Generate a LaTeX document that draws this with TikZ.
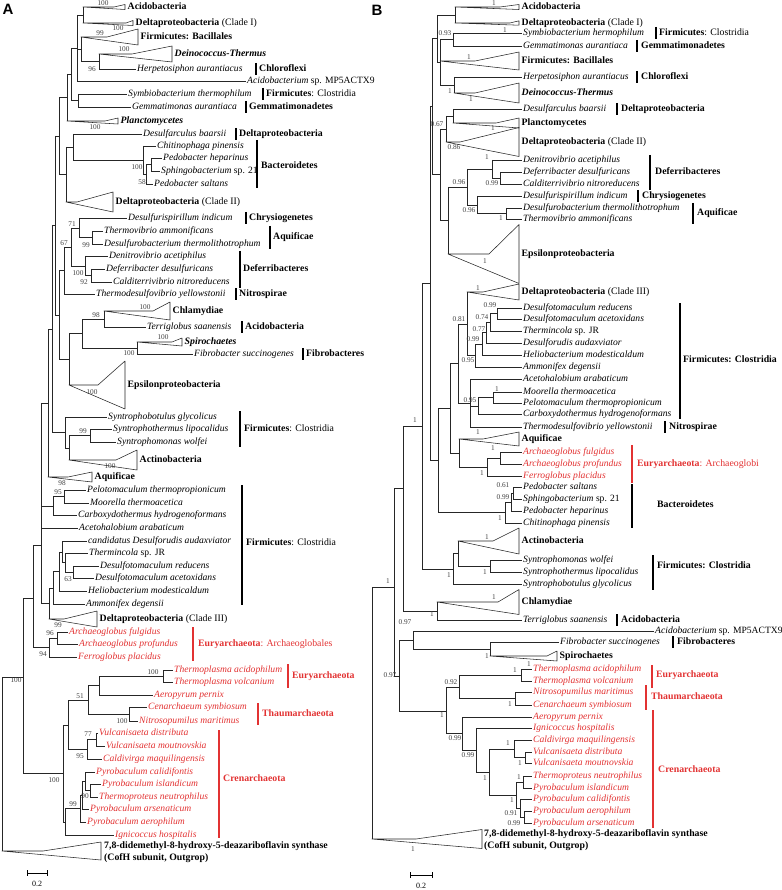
\documentclass[tikz,border=0pt]{standalone}
\usepackage{fontspec}
\setmainfont{Liberation Serif}
\newfontfamily\panelfont{Liberation Sans}
\definecolor{arch}{RGB}{226,50,50}
\newcommand\lff{\fontsize{9.6}{11}\selectfont\itshape}
\newcommand\grpf{\fontsize{9.8}{11}\selectfont}
\newcommand\svf{\fontsize{7.3}{8}\selectfont}
\newcounter{svc}
\tikzset{
 br/.style={line width=0.55pt, draw=black!85, line join=round},
 lf/.style={font=\lff, inner xsep=1.5pt, inner ysep=0pt, text height=6.4pt, text depth=2pt},
 grp/.style={font=\grpf, inner xsep=0pt, inner ysep=0pt, text height=6.4pt, text depth=2pt},
 sv/.style={font=\svf, inner sep=0pt, text=black!75},
 gbar/.style={line width=1.6pt, draw=black},
 abar/.style={line width=1.3pt, draw=arch},
 arc/.style={text=arch},
 panel/.style={font=\panelfont\bfseries\fontsize{15}{15}\selectfont, inner sep=0pt},
 sbar/.style={line width=0.6pt, draw=black}
}
\newcommand\Lf[6][]{\node[lf,anchor=west,#1] (#2) at ({#5-1.5},#4) {#6};\draw[br] (#3,#4) -- (#2.west);}
\newcommand\Tri[8][]{\draw[br] (#3,#4) -- (#5,#4) -- (#6,{#4-#7}) -- (#6,{#4+#7}) -- cycle;\node[grp,anchor=west,#1] (#2) at ({#6+2.5},#4) {#8};}
\newcommand\In[5]{\draw[br] (#1,#2) -- (#1,#3) (#4,#5) -- (#1,#5);}
\newcommand\Gb[4][gbar]{\draw[#1] (#2,#3) -- (#2,#4);}
\newcommand\Gl[5][]{\node[grp,anchor=west,#1] (#2) at (#3,#4) {#5};}
\newcommand\Sv[3]{\stepcounter{svc}\node[sv] (sv\arabic{svc}) at (#1,#2) {#3};}
\begin{document}
\begin{tikzpicture}[x=1pt,y=-1pt]
\useasboundingbox (0,0) rectangle (781,890);
\node[panel] (pA) at (8,9) {A};
\node[panel] (pB) at (377,10) {B};
% ================= LEFT TREE =================
\In{83}{7}{23}{77}{15}
\In{99}{54}{69}{81}{61.5}
\In{81}{37}{61.5}{77}{49}
\In{77}{15}{81}{71}{48}
\In{78}{94}{107}{71}{100.5}
\In{71}{48}{100.5}{67}{74}
\In{67}{74}{121}{59}{97}
\In{143}{146}{174}{73}{160}
\In{146}{164.5}{184}{143}{174}
\In{151}{158}{171}{146}{164.5}
\In{73}{134}{160}{66}{147}
\In{66}{147}{202}{59}{174.5}
\In{59}{97}{174.5}{55}{136}
\In{92}{231}{244}{79}{237.5}
\In{79}{218}{237.5}{71}{228}
\In{91}{269}{282}{85}{275.5}
\In{85}{256}{275.5}{71}{266}
\In{71}{228}{266}{64}{247}
\In{64}{247}{294}{59}{270.5}
\In{104}{311}{327}{82}{319}
\In{137}{342}{354}{82}{348}
\In{82}{319}{348}{69}{333.5}
\In{69}{333.5}{385}{59}{359}
\In{59}{270.5}{359}{55}{315}
\In{55}{136}{315}{52}{225}
\In{90}{429}{442}{69}{435.5}
\In{69}{435.5}{460}{65}{448}
\In{65}{417}{448}{52}{432.5}
\In{52}{225}{432.5}{48}{329}
\In{48}{329}{477}{41}{403}
\In{64}{490}{503}{53}{496.5}
\In{53}{496.5}{515}{41}{506}
\In{73}{566}{578}{65}{572}
\In{65}{553}{572}{62}{562.5}
\In{62}{541}{562.5}{59}{552}
\In{59}{552}{591}{53}{571.5}
\In{53}{571.5}{604}{49}{588}
\In{49}{588}{619}{41}{603.5}
\In{41}{403}{603.5}{33}{545}
\In{57}{632}{644}{49}{638}
\In{49}{638}{657}{33}{647.5}
\In{33}{545}{647.5}{23}{598}
\In{163}{670}{682}{99}{676}
\In{99}{676}{695}{88}{685.5}
\In{129}{707}{721}{88}{714}
\In{88}{685.5}{714}{68}{700}
\In{96}{733}{746}{87}{739.5}
\In{87}{739.5}{759}{68}{749}
\In{68}{700}{749}{63}{725}
\In{90}{784}{797}{85}{790.5}
\In{85}{772}{790.5}{82}{781}
\In{82}{781}{809}{80}{795}
\In{80}{795}{822}{65}{808.5}
\In{65}{808.5}{835}{63}{822}
\In{63}{725}{822}{23}{773}
\In{23}{598}{773}{2}{677}
\draw[br] (2,677) -- (2,851);
% left leaves
\Tri{tAcL}{83}{7}{114}{125}{2.5}{\textbf{Acidobacteria}}
\Tri{tD1L}{83}{23}{126}{133}{2.5}{\textbf{Deltaproteobacteria} (Clade I)}
\Tri{tBaL}{81}{37}{107}{138}{8}{\textbf{Firmicutes: Bacillales}}
\Tri{tDTL}{99}{54}{132}{172}{8}{\textbf{\itshape Deinococcus-Thermus}}
\Lf{lHerpL}{99}{69}{137}{Herpetosiphon aurantiacus}
\Gb{256}{63}{75}\Gl{gChlL}{259}{69}{\textbf{Chloroflexi}}
\Lf{lAMPL}{77}{81}{247}{Acidobacterium {\upshape sp. MP5ACTX9}}
\Lf{lSymL}{78}{94}{128}{Symbiobacterium thermophilum}
\Gb{263}{88}{100}\Gl{gSymL}{266}{94}{\textbf{Firmicutes}: Clostridia}
\Lf{lGemL}{78}{107}{132}{Gemmatimonas aurantiaca}
\Gb{246}{101}{113}\Gl{gGemL}{249}{107}{\textbf{Gemmatimonadetes}}
\Tri{tPlL}{67}{121}{105}{118}{3}{\textbf{\itshape Planctomycetes}}
\Lf{lDbL}{73}{134}{143}{Desulfarculus baarsii}
\Gb{236}{128}{140}\Gl{gDbL}{239}{134}{\textbf{Deltaproteobacteria}}
\Lf{lChiL}{143}{146}{157}{Chitinophaga pinensis}
\Lf{lPhL}{151}{158}{163}{Pedobacter heparinus}
\Lf{lSphL}{151}{171}{161}{Sphingobacterium {\upshape sp. 21}}
\Lf{lPsL}{146}{184}{154}{Pedobacter saltans}
\Gb{257}{140}{188}\Gl{gBacL}{261}{166}{\textbf{Bacteroidetes}}
\Tri{tD2L}{66}{202}{77}{113}{10}{\textbf{Deltaproteobacteria} (Clade II)}
\Lf{lDiL}{79}{218}{128}{Desulfurispirillum indicum}
\Gb{246}{212}{224}\Gl{gCrL}{249}{218}{\textbf{Chrysiogenetes}}
\Lf{lTaL}{92}{231}{104}{Thermovibrio ammonificans}
\Lf{lDtL}{92}{244}{104}{Desulfurobacterium thermolithotrophum}
\Gb{270}{226}{249}\Gl{gAqL}{273}{237}{\textbf{Aquificae}}
\Lf{lDaL}{85}{256}{109}{Denitrovibrio acetiphilus}
\Lf{lDdL}{91}{269}{106}{Deferribacter desulfuricans}
\Lf{lCnL}{91}{282}{113}{Calditerrivibrio nitroreducens}
\Gb{240}{251}{288}\Gl{gDefL}{243}{269}{\textbf{Deferribacteres}}
\Lf{lTyL}{64}{294}{96}{Thermodesulfovibrio yellowstonii}
\Gb{236}{288}{300}\Gl{gNiL}{239}{294}{\textbf{Nitrospirae}}
\Tri{tChL}{104}{311}{153}{170}{9}{\textbf{Chlamydiae}}
\Lf{lTsL}{104}{327}{147}{Terriglobus saanensis}
\Gb{242}{321}{333}\Gl{gAcL}{245}{327}{\textbf{Acidobacteria}}
\Tri{tSpL}{137}{342}{172}{182}{4}{\textbf{\itshape Spirochaetes}}
\Lf{lFsL}{137}{354}{194}{Fibrobacter succinogenes}
\Gb{303}{348}{360}\Gl{gFiL}{306}{354}{\textbf{Fibrobacteres}}
\Tri{tEpL}{69}{385}{98}{125}{24}{\textbf{Epsilonproteobacteria}}
\Lf{lSgL}{65}{417}{108}{Syntrophobotulus glycolicus}
\Lf{lSlL}{90}{429}{113}{Syntrophothermus lipocalidus}
\Lf{lSwL}{90}{442}{117}{Syntrophomonas wolfei}
\Gb{240}{411}{447}\Gl{gCl1L}{244}{429}{\textbf{Firmicutes}: Clostridia}
\Tri{tAcnL}{69}{460}{116}{137}{10}{\textbf{Actinobacteria}}
\Tri{tAqL}{48}{477}{68}{92}{5}{\textbf{Aquificae}}
\Lf{lPtL}{64}{490}{87}{Pelotomaculum thermopropionicum}
\Lf{lMtL}{64}{503}{90}{Moorella thermoacetica}
\Lf{lCaL}{53}{515}{78}{Carboxydothermus hydrogenoformans}
\Lf{lAaL}{41}{528}{79}{Acetohalobium arabaticum}
\Lf{lCdL}{62}{541}{88}{candidatus Desulforudis audaxviator}
\Lf{lTjL}{65}{553}{89}{Thermincola {\upshape sp. JR}}
\Lf{lDrL}{73}{566}{100}{Desulfotomaculum reducens}
\Lf{lDacL}{73}{578}{95}{Desulfotomaculum acetoxidans}
\Lf{lHmL}{59}{591}{88}{Heliobacterium modesticaldum}
\Lf{lAdL}{53}{604}{86}{Ammonifex degensii}
\Gb{242}{485}{605}\Gl{gCl2L}{246}{543}{\textbf{Firmicutes}: Clostridia}
\Tri{tD3L}{49}{619}{64}{97}{8}{\textbf{Deltaproteobacteria} (Clade III)}
\Lf[arc]{lAfL}{57}{632}{69}{Archaeoglobus fulgidus}
\Lf[arc]{lApL}{57}{644}{79}{Archaeoglobus profundus}
\Lf[arc]{lFpL}{49}{657}{78}{Ferroglobus placidus}
\Gb[abar]{193}{627}{661}\Gl[arc]{gEu1L}{198}{644}{\textbf{Euryarchaeota}: Archaeoglobales}
\Lf[arc]{lTacL}{163}{670}{174}{Thermoplasma acidophilum}
\Lf[arc]{lTvL}{163}{682}{174}{Thermoplasma volcanium}
\Gb[abar]{288}{664}{688}\Gl[arc]{gEu2L}{292}{676}{\textbf{Euryarchaeota}}
\Lf[arc]{lApeL}{99}{695}{154}{Aeropyrum pernix}
\Lf[arc]{lCsL}{129}{707}{148}{Cenarchaeum symbiosum}
\Lf[arc]{lNmL}{129}{721}{139}{Nitrosopumilus maritimus}
\Gb[abar]{258}{703}{725}\Gl[arc]{gThL}{262}{714}{\textbf{Thaumarchaeota}}
\Lf[arc]{lVdL}{96}{733}{99}{Vulcanisaeta distributa}
\Lf[arc]{lVmL}{96}{746}{106}{Vulcanisaeta moutnovskia}
\Lf[arc]{lCmL}{87}{759}{103}{Caldivirga maquilingensis}
\Lf[arc]{lPcL}{85}{772}{96}{Pyrobaculum calidifontis}
\Lf[arc]{lPiL}{90}{784}{102}{Pyrobaculum islandicum}
\Lf[arc]{lTnL}{90}{797}{99}{Thermoproteus neutrophilus}
\Lf[arc]{lParL}{82}{809}{90}{Pyrobaculum arsenaticum}
\Lf[arc]{lPaeL}{80}{822}{87}{Pyrobaculum aerophilum}
\Lf[arc]{lIhL}{65}{835}{115}{Ignicoccus hospitalis}
\Gb[abar]{219}{730}{838}\Gl[arc]{gCrnL}{223}{779}{\textbf{Crenarchaeota}}
\Tri{tOgL}{2}{851}{43}{101}{9}{}
\Gl{gOg1L}{104}{846}{\textbf{7,8-didemethyl-8-hydroxy-5-deazariboflavin synthase}}
\Gl{gOg2L}{104}{858}{\textbf{(CofH subunit, Outgrop)}}
% left support values
\Sv{103}{3}{100}
\Sv{100}{33}{99}\Sv{118}{28}{100}
\Sv{124}{49}{100}
\Sv{92}{69}{96}
\Sv{95}{127}{100}
\Sv{137}{167}{100}\Sv{142}{182}{58}
\Sv{72}{224}{71}\Sv{86}{245}{99}\Sv{64}{243}{67}
\Sv{78}{273}{100}\Sv{84}{282}{92}
\Sv{145}{307}{100}\Sv{96}{315}{98}
\Sv{163}{337}{100}\Sv{129}{353}{100}
\Sv{92}{392}{100}
\Sv{83}{431}{99}
\Sv{110}{466}{100}
\Sv{62}{483}{98}\Sv{58}{492}{95}
\Sv{68}{579}{63}
\Sv{58}{625}{99}
\Sv{50}{633}{96}\Sv{43}{654}{94}
\Sv{16}{680}{100}
\Sv{153}{672}{100}
\Sv{80}{696}{51}
\Sv{122}{721}{100}
\Sv{88}{734}{77}\Sv{80}{756}{95}
\Sv{54}{780}{100}
\Sv{85}{796}{90}\Sv{73}{804}{99}
% left scale bar
\draw[sbar] (27,873) -- (47,873) (27,870) -- (27,876) (47,870) -- (47,876);
\node[sv,text=black,font=\fontsize{8}{9}\selectfont] (scL) at (37,884) {0.2};
% ================= RIGHT TREE =================
\In{455}{7}{23}{437}{15}
\In{453}{33}{46}{440}{39.5}
\In{454}{77}{93}{440}{85}
\In{440}{39.5}{85}{437}{62}
\In{437}{15}{62}{432}{38.5}
\In{453}{109}{123}{446}{116}
\In{446}{116}{142}{440}{129}
\In{500}{172}{184}{492}{178}
\In{492}{160}{178}{467}{169}
\In{506}{208}{219}{477}{213.5}
\In{477}{196}{213.5}{467}{205}
\In{467}{169}{205}{448}{187}
\In{448}{187}{254}{440}{220.5}
\In{440}{129}{220.5}{432}{174.5}
\In{432}{38.5}{174.5}{430}{106.5}
\In{497}{308}{319}{490}{313.5}
\In{490}{313.5}{331}{486}{322}
\In{486}{322}{343}{482}{332.5}
\In{482}{332.5}{355}{475}{344}
\In{475}{344}{367}{467}{355.5}
\In{467}{292}{355.5}{458}{324}
\In{493}{392}{403}{478}{397.5}
\In{478}{397.5}{414}{470}{406}
\In{470}{379}{427}{458}{403}
\In{458}{324}{403}{450}{363.5}
\In{500}{452}{464}{487}{458}
\In{487}{458}{476}{459}{467}
\In{459}{439}{467}{450}{453}
\In{450}{363.5}{453}{438}{408}
\In{513}{487}{499}{511}{493}
\In{511}{493}{511}{505}{502}
\In{505}{502}{523}{438}{512.5}
\In{438}{408}{512.5}{430}{460}
\In{430}{106.5}{460}{422}{283}
\In{490}{560}{572}{458}{566}
\In{458}{541}{566}{453}{553.5}
\In{453}{553.5}{584}{422}{569}
\In{422}{283}{569}{403}{426}
\In{437}{602}{620}{403}{611}
\In{403}{426}{611}{394}{488}
\In{490}{642}{656}{413}{649}
\In{413}{631}{649}{399}{640}
\In{521}{669}{681}{459}{675}
\In{515}{692}{705}{459}{698.5}
\In{459}{675}{698.5}{446}{687}
\In{525}{752}{763}{514}{757.5}
\In{514}{740}{757.5}{489}{749}
\In{523}{776}{788}{516}{782}
\In{524}{811}{823}{520}{817}
\In{520}{799}{817}{516}{808}
\In{516}{782}{808}{489}{795}
\In{489}{749}{795}{476}{772}
\In{476}{728}{772}{462}{750}
\In{462}{717}{750}{446}{733.5}
\In{446}{687}{733.5}{399}{711}
\In{399}{640}{711}{394}{676}
\In{394}{488}{676}{372}{587}
\draw[br] (372,587) -- (372,839);
% right leaves
\Tri{tAcR}{455}{7}{500}{519}{2.5}{\textbf{Acidobacteria}}
\Tri{tD1R}{455}{23}{510}{519}{2.2}{\textbf{Deltaproteobacteria} (Clade I)}
\Lf{lSymR}{453}{33}{523}{Symbiobacterium hermophilum}
\Gb{656}{27}{39}\Gl{gSymR}{659}{33}{\textbf{Firmicutes}: Clostridia}
\Lf{lGemR}{453}{46}{523}{Gemmatimonas aurantiaca}
\Gb{637}{40}{52}\Gl{gGemR}{641}{46}{\textbf{Gemmatimonadetes}}
\Tri{tBaR}{440}{61}{475}{519}{9}{\textbf{Firmicutes: Bacillales}}
\Lf{lHerpR}{454}{77}{523}{Herpetosiphon aurantiacus}
\Gb{637}{71}{83}\Gl{gChlR}{641}{77}{\textbf{Chloroflexi}}
\Tri{tDTR}{454}{93}{475}{519}{10}{\textbf{\itshape Deinococcus-Thermus}}
\Lf{lDbR}{453}{109}{523}{Desulfarculus baarsii}
\Gb{617}{103}{115}\Gl{gDbR}{621}{109}{\textbf{Deltaproteobacteria}}
\Tri{tPlR}{453}{123}{496}{519}{5}{\textbf{Planctomycetes}}
\Tri{tD2R}{446}{142}{460}{519}{14.5}{\textbf{Deltaproteobacteria} (Clade II)}
\Lf{lDaR}{492}{160}{523}{Denitrovibrio acetiphilus}
\Lf{lDdR}{500}{172}{523}{Deferribacter desulfuricans}
\Lf{lCnR}{500}{184}{523}{Calditerrivibrio nitroreducens}
\Gb{650}{155}{190}\Gl{gDefR}{655}{172}{\textbf{Deferribacteres}}
\Lf{lDiR}{477}{196}{523}{Desulfurispirillum indicum}
\Gb{638}{190}{202}\Gl{gCrR}{642}{196}{\textbf{Chrysiogenetes}}
\Lf{lDtR}{506}{208}{523}{Desulfurobacterium thermolithotrophum}
\Lf{lTaR}{506}{219}{523}{Thermovibrio ammonificans}
\Gb{693}{203}{224}\Gl{gAqR}{697}{213}{\textbf{Aquificae}}
\Tri{tEpR}{448}{254}{489}{519}{29.5}{\textbf{Epsilonproteobacteria}}
\Tri{tD3R}{467}{292}{483}{519}{8}{\textbf{Deltaproteobacteria} (Clade III)}
\Lf{lDrR}{497}{308}{523}{Desulfotomaculum reducens}
\Lf{lDacR}{497}{319}{523}{Desulfotomaculum acetoxidans}
\Lf{lTjR}{490}{331}{523}{Thermincola {\upshape sp. JR}}
\Lf{lDuR}{486}{343}{523}{Desulforudis audaxviator}
\Lf{lHmR}{482}{355}{523}{Heliobacterium modesticaldum}
\Lf{lAdR}{475}{367}{523}{Ammonifex degensii}
\Lf{lAaR}{470}{379}{523}{Acetohalobium arabaticum}
\Lf{lMtR}{493}{392}{523}{Moorella thermoacetica}
\Lf{lPtR}{493}{403}{523}{Pelotomaculum thermopropionicum}
\Lf{lCaR}{478}{414}{523}{Carboxydothermus hydrogenoformans}
\Gb{680}{303}{419}\Gl{gCl1R}{683}{360}{\textbf{Firmicutes: Clostridia}}
\Lf{lTyR}{470}{427}{523}{Thermodesulfovibrio yellowstonii}
\Gb{665}{421}{433}\Gl{gNiR}{669}{427}{\textbf{Nitrospirae}}
\Tri{tAqR}{459}{439}{483}{519}{7}{\textbf{Aquificae}}
\Lf[arc]{lAfR}{500}{452}{523}{Archaeoglobus fulgidus}
\Lf[arc]{lApR}{500}{464}{523}{Archaeoglobus profundus}
\Lf[arc]{lFpR}{487}{476}{523}{Ferroglobus placidus}
\Gb[abar]{632}{445}{483}\Gl[arc]{gEu1R}{637}{464}{\textbf{Euryarchaeota}: Archaeoglobi}
\Lf{lPsR}{513}{487}{523}{Pedobacter saltans}
\Lf{lSphR}{513}{499}{523}{Sphingobacterium {\upshape sp. 21}}
\Lf{lPhR}{511}{511}{523}{Pedobacter heparinus}
\Lf{lChiR}{505}{523}{523}{Chitinophaga pinensis}
\Gb{632}{484}{528}\Gl{gBacR}{657}{505}{\textbf{Bacteroidetes}}
\Tri{tAcnR}{458}{541}{493}{519}{13}{\textbf{Actinobacteria}}
\Lf{lSwR}{490}{560}{523}{Syntrophomonas wolfei}
\Lf{lSlR}{490}{572}{523}{Syntrophothermus lipocalidus}
\Lf{lSgR}{453}{584}{523}{Syntrophobotulus glycolicus}
\Gb{653}{555}{590}\Gl{gCl2R}{657}{566}{\textbf{Firmicutes: Clostridia}}
\Tri{tChR}{437}{602}{498}{519}{12.5}{\textbf{Chlamydiae}}
\Lf{lTsR}{437}{620}{523}{Terriglobus saanensis}
\Gb{617}{614}{626}\Gl{gAcR}{621}{620}{\textbf{Acidobacteria}}
\Lf{lAMPR}{413}{631}{655}{Acidobacterium {\upshape sp. MP5ACTX9}}
\Lf{lFsR}{490}{642}{560}{Fibrobacter succinogenes}
\Gb{673}{636}{648}\Gl{gFiR}{677}{642}{\textbf{Fibrobacteres}}
\Tri{tSpR}{490}{656}{547}{557}{5}{\textbf{Spirochaetes}}
\Lf[arc]{lTacR}{521}{669}{533}{Thermoplasma acidophilum}
\Lf[arc]{lTvR}{521}{681}{533}{Thermoplasma volcanium}
\Gb[abar]{652}{665}{688}\Gl[arc]{gEu2R}{656}{675}{\textbf{Euryarchaeota}}
\Lf[arc]{lNmR}{515}{692}{533}{Nitrosopumilus maritimus}
\Lf[arc]{lCsR}{515}{705}{533}{Cenarchaeum symbiosum}
\Gb[abar]{646}{685}{710}\Gl[arc]{gThR}{651}{697}{\textbf{Thaumarchaeota}}
\Lf[arc]{lApeR}{462}{717}{533}{Aeropyrum pernix}
\Lf[arc]{lIhR}{476}{728}{533}{Ignicoccus hospitalis}
\Lf[arc]{lCmR}{514}{740}{533}{Caldivirga maquilingensis}
\Lf[arc]{lVdR}{525}{752}{533}{Vulcanisaeta distributa}
\Lf[arc]{lVmR}{525}{763}{533}{Vulcanisaeta moutnovskia}
\Lf[arc]{lTnR}{523}{776}{533}{Thermoproteus neutrophilus}
\Lf[arc]{lPiR}{523}{788}{533}{Pyrobaculum islandicum}
\Lf[arc]{lPcR}{520}{799}{533}{Pyrobaculum calidifontis}
\Lf[arc]{lPaeR}{524}{811}{533}{Pyrobaculum aerophilum}
\Lf[arc]{lParR}{524}{823}{533}{Pyrobaculum arsenaticum}
\Gb[abar]{653}{710}{828}\Gl[arc]{gCrnR}{658}{770}{\textbf{Crenarchaeota}}
\Tri{tOgR}{372}{839}{416}{482}{9.5}{}
\Gl{gOg1R}{484}{834}{\textbf{7,8-didemethyl-8-hydroxy-5-deazariboflavin synthase}}
\Gl{gOg2R}{484}{846}{\textbf{(CofH subunit, Outgrop)}}
% right support values
\Sv{494}{3}{1}
\Sv{445}{33}{0.93}\Sv{505}{30}{1}
\Sv{469}{57}{1}
\Sv{450}{91}{1}\Sv{471}{99}{1}
\Sv{437}{124}{0.67}\Sv{493}{128}{1}
\Sv{454}{147}{0.86}
\Sv{487}{157}{1}
\Sv{459}{182}{0.96}\Sv{492}{183}{0.99}
\Sv{469}{210}{0.96}\Sv{501}{218}{1}
\Sv{485}{261}{1}
\Sv{478}{288}{1}
\Sv{490}{305}{0.99}\Sv{482}{317}{0.74}\Sv{459}{319}{0.81}
\Sv{479}{329}{0.77}\Sv{473}{339}{0.99}\Sv{468}{360}{0.95}
\Sv{497}{389}{1}\Sv{470}{400}{0.95}
\Sv{415}{420}{1}
\Sv{478}{432}{1}\Sv{493}{448}{1}\Sv{482}{473}{1}
\Sv{503}{485}{0.61}\Sv{503}{497}{0.99}\Sv{500}{518}{1}
\Sv{487}{537}{1}\Sv{485}{572}{1}\Sv{449}{575}{1}
\Sv{494}{597}{1}\Sv{432}{614}{1}
\Sv{405}{622}{0.97}\Sv{487}{656}{1}
\Sv{529}{664}{1}\Sv{515}{670}{1}
\Sv{451}{682}{0.92}\Sv{510}{704}{1}
\Sv{388}{581}{1}\Sv{390}{675}{0.97}
\Sv{442}{715}{1}
\Sv{455}{738}{0.99}\Sv{508}{743}{1}
\Sv{468}{755}{0.99}\Sv{520}{763}{1}
\Sv{519}{777}{1}\Sv{485}{778}{1}
\Sv{512}{800}{1}\Sv{511}{813}{0.91}\Sv{514}{823}{0.99}
\Sv{413}{849}{1}
% right scale bar
\draw[sbar] (410,875) -- (432,875) (410,872) -- (410,878) (432,872) -- (432,878);
\node[sv,text=black,font=\fontsize{8}{9}\selectfont] (scR) at (421,886) {0.2};
\end{tikzpicture}
\end{document}
